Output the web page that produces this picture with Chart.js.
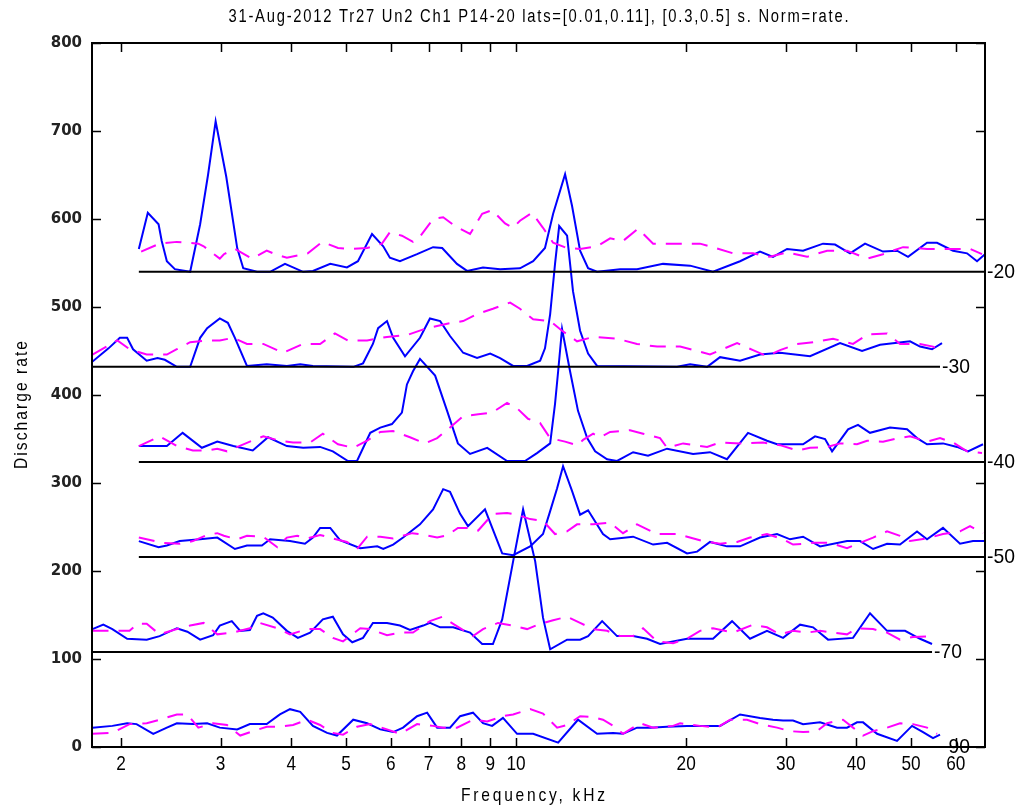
<!DOCTYPE html>
<html>
<head>
<meta charset="utf-8">
<script src="https://cdn.jsdelivr.net/npm/chart.js@4.4.1/dist/chart.umd.min.js"></script>
<style>
  html, body { margin: 0; padding: 0; background: #fff; }
  #wrap { width: 1025px; height: 811px; }
</style>
</head>
<body>
<div id="wrap"><canvas id="chart" width="1025" height="811"></canvas></div>
<script>
// x ticks (kHz) and the stacked level groups
const xTicks = [2, 3, 4, 5, 6, 7, 8, 9, 10, 20, 30, 40, 50, 60];
const levels = ['-20', '-30', '-40', '-50', '-70', '-90'];
const offsets = [540, 432, 324, 216, 108, 0];
const lineFrom = [2.15, 1.78, 2.15, 2.15, 1.78, 1.78];
const lineTo = [67.58, 56.26, 67.58, 67.58, 54.46, 56.26];

// [kHz, rate] pairs, blue = solid, pink = dashed
const blue20 = [[2.15,566],[2.23,607],[2.33,594],[2.36,575],[2.41,552],[2.49,543],[2.65,540],[2.76,594],[2.85,650],[2.94,711],[3.07,648],[3.21,567],[3.29,544],[3.48,540],[3.67,540],[3.90,549],[4.20,540],[4.37,541],[4.69,549],[5.02,545],[5.25,552],[5.56,583],[5.82,569],[5.98,556],[6.23,552],[6.68,560],[7.13,568],[7.40,567],[7.86,549],[8.19,541],[8.74,545],[9.37,543],[10.16,544],[10.72,552],[11.25,567],[11.63,606],[12.21,651],[12.56,615],[12.98,564],[13.41,544],[13.91,540],[15.28,543],[16.37,543],[18.20,549],[20.32,547],[22.31,540],[24.91,552],[27.02,563],[28.49,557],[30.17,566],[32.20,564],[34.93,572],[36.68,571],[38.99,561],[41.45,572],[44.60,563],[47.22,564],[49.39,557],[53.36,573],[55.58,573],[59.33,564],[62.81,561],[65.42,552],[67.58,560]];
const pink20 = [[2.17,563],[2.34,572],[2.51,574],[2.74,572],[2.80,569],[2.99,555],[3.04,560],[3.18,566],[3.41,555],[3.62,564],[3.78,559],[3.93,556],[4.28,561],[4.54,574],[4.84,567],[5.15,566],[5.45,567],[5.79,572],[5.98,585],[6.28,581],[6.57,574],[6.76,580],[7.13,600],[7.43,602],[7.80,592],[8.29,583],[8.71,606],[9.07,610],[9.56,595],[9.88,590],[10.16,598],[10.67,607],[11.16,590],[11.63,573],[12.31,567],[12.98,566],[13.91,569],[14.67,578],[15.46,575],[16.44,589],[17.48,572],[18.96,572],[21.16,572],[22.31,568],[24.21,561],[26.26,561],[28.15,557],[30.17,562],[32.73,557],[35.51,564],[38.52,564],[41.79,555],[44.60,560],[48.39,568],[53.36,566],[58.60,566],[63.58,566],[66.76,560]];

const blue30 = [[1.78,438],[1.90,453],[1.99,465],[2.05,465],[2.10,452],[2.22,439],[2.32,442],[2.39,440],[2.51,432],[2.65,432],[2.76,465],[2.84,476],[2.99,487],[3.09,482],[3.18,465],[3.34,433],[3.62,435],[3.93,433],[4.15,435],[4.37,433],[5.15,432],[5.36,436],[5.58,458],[5.70,476],[5.91,484],[6.06,465],[6.36,444],[6.76,465],[7.04,487],[7.34,484],[7.64,467],[8.06,448],[8.53,442],[9.00,447],[9.37,442],[9.88,433],[10.46,433],[11.03,439],[11.25,453],[11.49,492],[11.72,549],[11.92,592],[12.31,581],[12.61,518],[12.98,473],[13.41,447],[13.91,433],[19.27,432],[20.32,435],[21.78,432],[22.96,443],[24.91,439],[27.02,446],[29.32,448],[33.13,444],[37.44,459],[40.95,450],[44.06,457],[49.79,461],[51.86,455],[54.46,452],[56.72,459]];
const pink30 = [[1.78,446],[1.97,462],[2.07,452],[2.22,446],[2.41,446],[2.51,452],[2.65,460],[2.84,462],[2.99,462],[3.16,465],[3.34,458],[3.57,458],[3.87,448],[4.20,458],[4.50,458],[4.78,470],[5.04,462],[5.45,462],[5.91,466],[6.41,468],[6.96,476],[7.55,481],[8.06,484],[8.53,492],[9.10,498],[9.76,505],[10.16,498],[10.72,486],[11.49,484],[12.06,473],[12.82,461],[13.69,466],[15.09,464],[16.37,458],[17.76,455],[19.51,455],[20.91,450],[22.04,446],[24.61,459],[26.26,451],[27.80,444],[29.32,451],[31.42,458],[33.54,460],[36.38,464],[39.47,458],[41.96,469],[45.34,470],[47.80,458],[51.86,458],[54.68,455],[56.26,450]];

const blue40 = [[2.15,342],[2.41,342],[2.57,357],[2.78,340],[2.96,347],[3.16,342],[3.42,337],[3.64,352],[3.93,342],[4.20,340],[4.50,341],[4.74,336],[5.04,325],[5.23,325],[5.52,357],[5.75,363],[6.03,367],[6.28,380],[6.41,412],[6.57,427],[6.76,441],[7.19,422],[7.55,382],[7.89,345],[8.29,333],[8.89,340],[9.64,325],[10.37,325],[10.89,334],[11.49,345],[11.72,390],[11.87,427],[12.06,475],[12.46,427],[12.87,382],[13.36,351],[13.80,336],[14.49,327],[15.09,325],[16.11,335],[17.12,331],[18.50,339],[20.57,333],[22.04,335],[23.62,327],[25.73,357],[27.80,348],[28.96,344],[32.20,344],[33.81,353],[35.22,350],[36.24,336],[38.68,361],[40.28,366],[42.30,357],[45.89,363],[49.19,361],[51.23,351],[53.36,344],[56.95,345],[60.30,341],[63.06,336],[67.04,344]];
const pink40 = [[2.15,342],[2.34,353],[2.51,342],[2.68,337],[2.84,337],[2.96,339],[3.08,336],[3.38,347],[3.57,353],[3.82,348],[4.03,346],[4.32,346],[4.55,356],[4.84,344],[5.15,340],[5.45,348],[5.75,358],[6.06,359],[6.49,352],[6.90,345],[7.25,351],[7.64,363],[8.06,376],[8.57,378],[9.07,380],[9.64,391],[10.04,385],[10.50,373],[11.03,368],[11.49,351],[12.21,347],[12.82,343],[13.14,349],[13.69,356],[14.08,352],[14.67,358],[15.91,360],[16.78,356],[17.98,351],[18.50,340],[19.75,345],[21.78,341],[22.96,346],[24.91,345],[27.36,346],[29.32,343],[31.42,337],[33.13,340],[35.51,341],[37.44,345],[40.12,344],[41.79,348],[44.60,347],[46.84,350],[49.79,353],[53.36,347],[56.26,351],[59.33,346],[62.81,336],[66.76,334]];

const blue50 = [[2.15,234],[2.33,227],[2.41,229],[2.54,234],[2.76,236],[2.96,238],[3.18,225],[3.34,229],[3.55,229],[3.67,236],[3.98,234],[4.23,231],[4.37,238],[4.50,249],[4.69,249],[4.88,235],[5.30,226],[5.68,228],[5.82,225],[6.06,230],[6.31,238],[6.76,253],[7.13,270],[7.43,293],[7.64,290],[7.96,265],[8.22,251],[8.81,270],[9.45,220],[9.88,218],[10.59,228],[11.16,242],[11.49,268],[11.82,294],[12.11,319],[12.56,291],[12.98,264],[13.41,269],[14.25,242],[14.67,236],[16.11,239],[17.48,230],[18.50,232],[20.07,220],[20.91,222],[22.04,233],[23.62,228],[24.91,228],[27.02,238],[28.96,242],[30.54,236],[32.20,239],[34.51,228],[38.52,234],[40.62,234],[42.83,225],[45.34,231],[47.80,230],[51.23,245],[53.36,236],[56.95,249],[61.04,231],[64.36,234],[67.58,234]];
const pink50 = [[2.15,238],[2.37,232],[2.54,231],[2.68,234],[2.84,241],[2.96,243],[3.04,240],[3.21,236],[3.34,240],[3.57,239],[3.78,227],[3.93,238],[4.10,240],[4.27,237],[4.50,241],[4.74,237],[5.02,233],[5.23,225],[5.45,239],[5.75,239],[6.06,237],[6.55,243],[6.90,241],[7.25,238],[7.58,241],[7.89,249],[8.29,249],[8.57,246],[9.10,265],[9.64,266],[10.04,264],[10.59,259],[11.16,257],[11.72,242],[12.31,245],[12.82,253],[13.69,253],[14.67,255],[15.46,243],[16.37,253],[17.76,242],[19.27,242],[21.43,234],[22.96,231],[24.61,233],[25.94,238],[27.80,242],[29.68,236],[30.91,230],[33.54,232],[35.94,232],[38.52,226],[40.62,232],[42.83,238],[45.34,245],[47.80,240],[49.79,234],[53.36,237],[56.95,242],[61.04,245],[63.58,251],[67.04,243]];

const blue70 = [[1.78,134],[1.86,139],[1.93,134],[2.05,123],[2.22,122],[2.34,126],[2.51,135],[2.62,131],[2.76,122],[2.91,127],[2.99,138],[3.14,143],[3.25,132],[3.38,133],[3.48,149],[3.57,152],[3.71,147],[3.93,132],[4.11,124],[4.32,130],[4.55,145],[4.74,148],[4.94,128],[5.13,119],[5.36,124],[5.58,141],[5.91,141],[6.23,138],[6.49,133],[6.85,138],[7.04,141],[7.34,136],[7.74,136],[8.29,130],[8.71,117],[9.10,117],[9.45,145],[9.88,211],[10.29,270],[10.81,211],[11.16,147],[11.49,111],[12.31,122],[12.98,122],[13.41,126],[14.20,143],[15.09,126],[16.11,126],[17.05,123],[17.98,117],[20.07,123],[22.31,123],[24.11,143],[25.94,123],[27.80,132],[29.68,124],[31.81,139],[33.54,136],[35.65,122],[39.47,124],[42.30,152],[45.34,132],[48.79,132],[51.86,123],[54.46,117]];
const pink70 = [[1.78,132],[1.93,132],[2.07,132],[2.14,140],[2.22,140],[2.34,128],[2.51,134],[2.65,138],[2.80,141],[2.96,128],[3.16,130],[3.38,135],[3.52,141],[3.78,135],[3.98,128],[4.27,134],[4.50,134],[4.74,124],[4.94,120],[5.30,135],[5.52,134],[5.91,127],[6.23,130],[6.57,130],[7.04,143],[7.40,148],[7.74,140],[8.39,126],[8.74,134],[9.29,141],[9.88,138],[10.46,134],[11.03,140],[11.63,144],[12.31,148],[12.98,141],[13.69,134],[14.49,132],[15.28,126],[16.11,126],[16.78,135],[17.76,120],[18.96,118],[20.07,123],[21.16,132],[22.31,135],[24.21,130],[26.26,139],[27.80,136],[29.32,128],[30.91,132],[32.73,130],[34.51,132],[36.38,130],[38.52,128],[40.12,135],[42.83,134],[45.34,130],[47.80,122],[50.40,125],[54.46,126]];

const blue90 = [[1.78,22],[1.93,24],[2.05,27],[2.13,26],[2.28,15],[2.41,22],[2.51,27],[2.68,26],[2.84,27],[2.99,22],[3.21,20],[3.38,26],[3.62,26],[3.82,37],[3.98,43],[4.15,40],[4.37,24],[4.63,16],[4.82,13],[5.15,31],[5.45,27],[5.75,20],[6.06,17],[6.31,22],[6.68,35],[6.96,39],[7.25,22],[7.64,22],[7.96,35],[8.39,39],[8.74,27],[9.07,24],[9.48,33],[10.04,15],[10.72,15],[11.87,5],[12.87,31],[13.91,15],[14.85,16],[15.46,15],[16.37,22],[17.26,22],[18.50,23],[20.07,24],[21.78,24],[22.96,24],[24.91,37],[27.02,33],[28.49,31],[29.68,30],[30.91,30],[32.20,26],[34.51,28],[36.98,22],[38.52,22],[40.12,28],[41.12,28],[43.53,15],[47.22,7],[50.20,24],[52.50,17],[54.68,10],[56.26,14]];
const pink90 = [[1.78,15],[1.93,16],[2.07,26],[2.22,27],[2.34,31],[2.51,37],[2.62,37],[2.74,22],[2.91,27],[3.08,25],[3.25,13],[3.42,18],[3.62,23],[3.78,23],[4.03,25],[4.27,31],[4.50,25],[4.74,16],[4.94,14],[5.23,23],[5.52,26],[5.91,20],[6.23,15],[6.68,26],[7.13,24],[7.43,22],[7.86,22],[8.39,31],[8.89,29],[9.48,35],[9.88,37],[10.59,43],[11.16,38],[11.82,22],[12.31,25],[12.98,35],[13.69,34],[14.25,31],[14.85,24],[15.46,15],[16.58,27],[17.48,22],[18.96,24],[19.51,27],[21.16,24],[22.68,22],[23.92,31],[25.63,31],[27.02,26],[28.96,22],[30.54,18],[32.20,17],[34.09,18],[35.51,27],[37.90,31],[39.47,22],[41.12,13],[42.83,18],[45.34,22],[47.80,27],[50.40,26],[53.36,22],[55.58,15]];

const blueSeries = [blue20, blue30, blue40, blue50, blue70, blue90];
const pinkSeries = [pink20, pink30, pink40, pink50, pink70, pink90];

const TITLE = '31-Aug-2012 Tr27 Un2 Ch1 P14-20 lats=[0.01,0.11], [0.3,0.5] s. Norm=rate.';
const FONT = "'Liberation Sans', Arial, sans-serif";

const toXY = arr => arr.map(([f, v]) => ({ x: f, y: v }));

const datasets = [];
levels.forEach((lv, i) => {
  datasets.push({
    label: 'base ' + lv,
    data: [{ x: lineFrom[i], y: offsets[i] }, { x: lineTo[i], y: offsets[i] }],
    borderColor: '#000', borderWidth: 2, order: 0
  });
  datasets.push({
    label: 'norm ' + lv,
    data: toXY(pinkSeries[i]),
    borderColor: '#ff00ff', borderWidth: 2, borderDash: [16, 10], order: 1
  });
  datasets.push({
    label: 'rate ' + lv,
    data: toXY(blueSeries[i]),
    borderColor: '#0000ff', borderWidth: 2, order: 2
  });
});

// squeezed Arial-like text (looks like the narrow matlab export font)
// width: stretch spacing so the whole string spans that many px
function narrowText(ctx, text, x, y, size, opts = {}) {
  const { align = 'center', width = 0, angle = 0, squeeze = 0.82 } = opts;
  ctx.save();
  ctx.font = size + 'px ' + FONT;
  ctx.letterSpacing = '0px';
  const w = ctx.measureText(text).width * squeeze;
  const ls = width && text.length > 1 ? (width - w) / (text.length - 1) : 0;
  const total = w + ls * (text.length - 1);
  ctx.letterSpacing = (ls / squeeze) + 'px';
  ctx.translate(x, y);
  if (angle) ctx.rotate(angle);
  ctx.scale(squeeze, 1);
  const start = align === 'center' ? -total / 2 : (align === 'right' ? -total : 0);
  ctx.textAlign = 'left';
  ctx.textBaseline = 'middle';
  ctx.fillStyle = '#000';
  ctx.fillText(text, start / squeeze, 0);
  ctx.restore();
}

const frame = {
  id: 'frame',
  afterDraw(chart) {
    const { ctx, chartArea: a, scales: { x, y } } = chart;
    ctx.save();
    ctx.strokeStyle = '#000';
    ctx.lineWidth = 1.5;
    ctx.beginPath();
    xTicks.forEach(v => {
      const px = Math.round(x.getPixelForValue(v)) + 0.5;
      ctx.moveTo(px, a.bottom); ctx.lineTo(px, a.bottom - 9);
      ctx.moveTo(px, a.top); ctx.lineTo(px, a.top + 9);
    });
    y.ticks.forEach(t => {
      const py = Math.round(y.getPixelForValue(t.value)) + 0.5;
      ctx.moveTo(a.left, py); ctx.lineTo(a.left + 9, py);
      ctx.moveTo(a.right, py); ctx.lineTo(a.right - 9, py);
    });
    ctx.stroke();
    ctx.lineWidth = 2;
    ctx.strokeRect(a.left, a.top, a.right - a.left, a.bottom - a.top);
    ctx.restore();

    // x tick labels
    xTicks.forEach(v => narrowText(ctx, String(v), x.getPixelForValue(v), a.bottom + 17, 21));

    // level labels at the end of each baseline
    levels.forEach((lv, i) => {
      narrowText(ctx, lv, x.getPixelForValue(lineTo[i]) + 2, y.getPixelForValue(offsets[i]), 21,
        { align: 'left', squeeze: 0.92 });
    });

    narrowText(ctx, TITLE, (a.left + a.right) / 2, 17, 18, { width: 620 });
    narrowText(ctx, 'Frequency, kHz', 533, 796, 19, { width: 144 });
    narrowText(ctx, 'Discharge rate', 22, 405, 19, { width: 128, angle: -Math.PI / 2 });
  }
};

new Chart(document.getElementById('chart'), {
  type: 'line',
  data: { datasets },
  plugins: [frame],
  options: {
    responsive: false,
    animation: false,
    devicePixelRatio: 1,
    layout: { padding: { left: 0, right: 40, top: 43, bottom: 0 } },
    elements: { point: { radius: 0 }, line: { tension: 0, borderCapStyle: 'butt' } },
    plugins: { legend: { display: false }, tooltip: { enabled: false }, title: { display: false } },
    scales: {
      x: {
        type: 'logarithmic',
        min: 1.7764,
        max: 67.58,
        grid: { display: false, drawTicks: false },
        border: { display: false },
        afterBuildTicks: s => { s.ticks = xTicks.map(v => ({ value: v })); },
        afterFit: s => { s.height = 64; },
        ticks: { display: false, autoSkip: false, maxRotation: 0 }
      },
      y: {
        min: 0,
        max: 800,
        grid: { display: false, drawTicks: false },
        border: { display: false },
        afterFit: s => { s.width = 92; },
        ticks: {
          stepSize: 100, padding: 10, color: '#222',
          font: { family: "'DejaVu Sans', sans-serif", size: 15, weight: 'bold' }
        }
      }
    }
  }
});
</script>
</body>
</html>
